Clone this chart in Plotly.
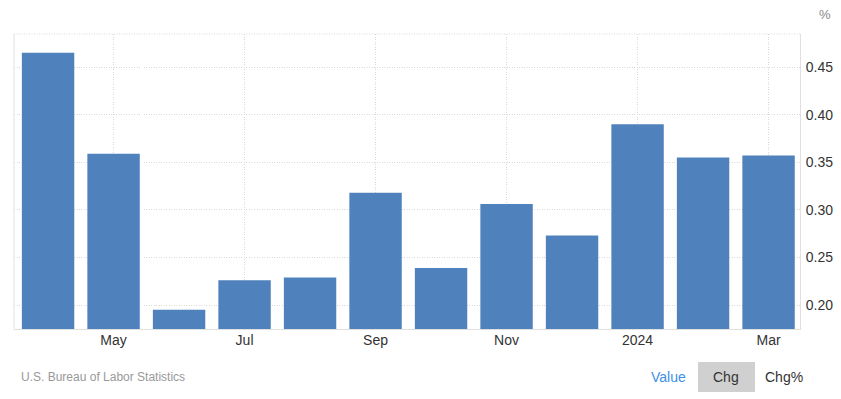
import plotly.graph_objects as go

months = ["Apr 2023", "May 2023", "Jun 2023", "Jul 2023", "Aug 2023", "Sep 2023",
          "Oct 2023", "Nov 2023", "Dec 2023", "Jan 2024", "Feb 2024", "Mar 2024"]
values = [0.465, 0.359, 0.195, 0.226, 0.229, 0.318, 0.239, 0.306, 0.273, 0.390, 0.355, 0.357]
tick_months = ["May 2023", "Jul 2023", "Sep 2023", "Nov 2023", "Jan 2024", "Mar 2024"]
tick_text = ["May", "Jul", "Sep", "Nov", "2024", "Mar"]
y_ticks = [0.20, 0.25, 0.30, 0.35, 0.40, 0.45]

W, H = 841, 399
L, R, T, B = 14, 41, 34, 70
PW, PH = W - L - R, H - T - B

def px(x):
    return (x - L) / PW

def py(y):
    return (H - B - y) / PH

FONT = "Arial, Liberation Sans, sans-serif"
GRID = "#d9d9d9"
DOT = "1px,1.5px"

fig = go.Figure(go.Bar(x=months, y=values, marker_color="#4f81bd",
                       marker_line_width=0, hoverinfo="x+y"))

fig.update_layout(
    width=W, height=H, margin=dict(l=L, r=R, t=T, b=B, autoexpand=False),
    paper_bgcolor="white", plot_bgcolor="white",
    bargap=0.2, showlegend=False,
    font=dict(family=FONT, size=14, color="#333333"),
    xaxis=dict(type="category", range=[-0.52, 11.48], tickmode="array",
               tickvals=tick_months, ticktext=tick_text, automargin=False,
               showgrid=True, gridcolor=GRID, griddash=DOT, gridwidth=1,
               showline=True, linecolor="#e0e0e0", linewidth=1,
               ticks="", ticklabelstandoff=-2, tickfont=dict(size=14, color="#333333"),
               zeroline=False),
    yaxis=dict(side="right", range=[0.1748, 0.4847], tickmode="array",
               tickvals=y_ticks, ticktext=[f"{v:.2f}" for v in y_ticks], automargin=False,
               showgrid=True, gridcolor=GRID, griddash=DOT, gridwidth=1,
               showline=True, linecolor="#e0e0e0", linewidth=1,
               ticks="", ticklabelstandoff=2, tickfont=dict(size=14, color="#333333"),
               zeroline=False),
    shapes=[
        dict(type="line", xref="paper", yref="paper", x0=0, x1=1, y0=1, y1=1,
             line=dict(color=GRID, width=1, dash=DOT)),
        dict(type="line", xref="paper", yref="paper", x0=0, x1=0, y0=0, y1=1,
             line=dict(color="#e0e0e0", width=1)),
        dict(type="rect", xref="paper", yref="paper", x0=px(698), x1=px(755),
             y0=py(392), y1=py(362), fillcolor="#d0d0d0", line_width=0, layer="below"),
    ],
    annotations=[
        dict(text="%", xref="paper", yref="paper", x=px(825), y=py(15),
             showarrow=False, font=dict(size=13, color="#888888"),
             xanchor="center", yanchor="middle"),
        dict(text="U.S. Bureau of Labor Statistics", xref="paper", yref="paper",
             x=px(19), y=py(377), showarrow=False, xanchor="left", yanchor="middle",
             font=dict(size=12, color="#999999")),
        dict(text="Value", xref="paper", yref="paper", x=px(668), y=py(377),
             showarrow=False, xanchor="center", yanchor="middle",
             font=dict(size=14, color="#3d8fe9")),
        dict(text="Chg", xref="paper", yref="paper", x=px(726), y=py(377),
             showarrow=False, xanchor="center", yanchor="middle",
             font=dict(size=14, color="#333333")),
        dict(text="Chg%", xref="paper", yref="paper", x=px(784), y=py(377),
             showarrow=False, xanchor="center", yanchor="middle",
             font=dict(size=14, color="#333333")),
    ],
)

fig.write_html("out.html", config={"displayModeBar": False},
               post_script="document.body.style.margin='0';document.body.style.overflow='hidden';")
